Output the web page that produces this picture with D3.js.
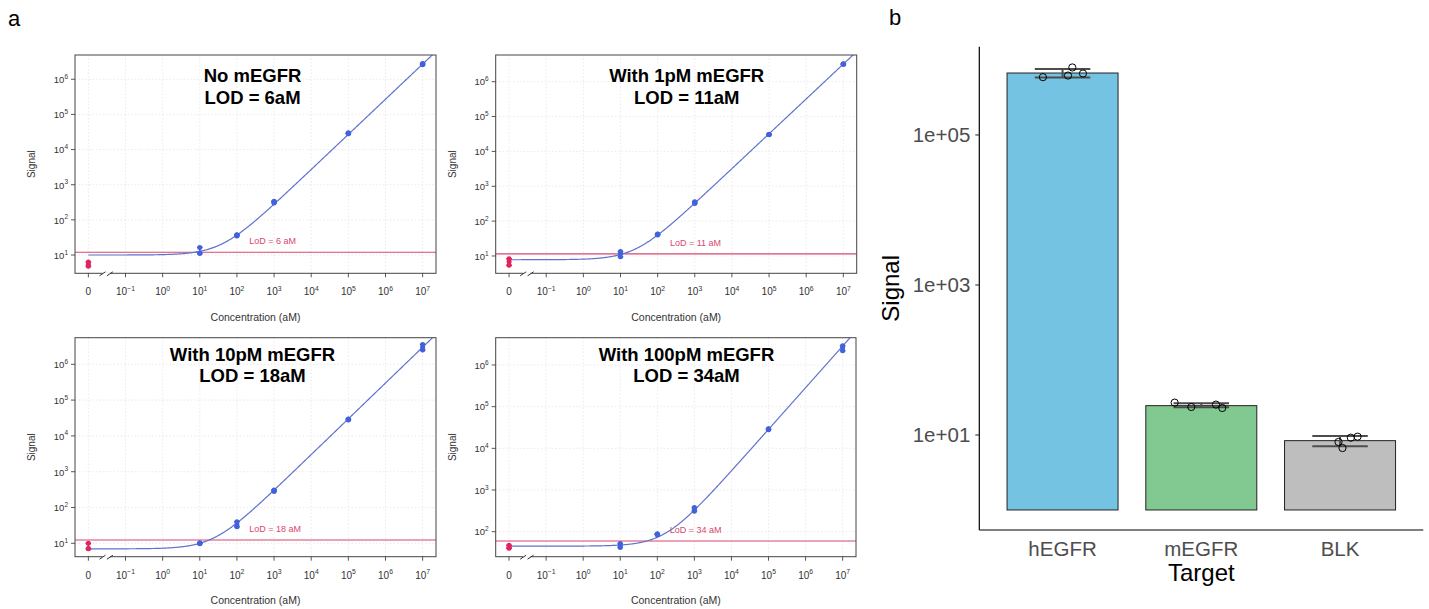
<!DOCTYPE html>
<html><head><meta charset="utf-8">
<script src="https://cdn.jsdelivr.net/npm/d3@7"></script>
<style>body{margin:0;background:#fff}svg{display:block;font-family:"Liberation Sans",Arial,sans-serif}</style>
</head><body><svg id="c" width="1429" height="609"></svg>
<script>
// ---------------- DATA ----------------
const concentrations = [0, 10, 100, 1000, 100000, 10000000];
const panelTitles = ["No mEGFR", "With 1pM mEGFR", "With 10pM mEGFR", "With 100pM mEGFR"];
const panelLodTitles = ["LOD = 6aM", "LOD = 11aM", "LOD = 18aM", "LOD = 34aM"];
const lodLabels = ["LoD = 6 aM", "LoD = 11 aM", "LoD = 18 aM", "LoD = 34 aM"];
const lodSignals = [12, 11.5, 12.4, 60];
// replicate signals per concentration (first entry = blank, concentration 0)
const signalsNoMEGFR = [[6.3, 5.4, 4.8], [16.5, 11, 11.5], [35, 38, 37], [300, 330, 340], [28000, 30000, 29000], [2.6e6, 2.8e6, 2.7e6]];
const signals1pM = [[8.3, 6.8, 5.4], [13.5, 9.5, 12], [40, 43, 42], [320, 360, 350], [30000, 31000, 30500], [3.1e6, 3.3e6, 3.2e6]];
const signals10pM = [[10, 7.2, 7], [9.7, 10.3, 10], [40, 29, 33], [280, 310, 300], [28000, 29500, 29000], [3.6e6, 2.5e6, 3.0e6]];
const signals100pM = [[47, 40, 42], [52, 42, 46], [85, 89, 87], [310, 380, 345], [28000, 29500, 29000], [2.9e6, 2.2e6, 2.6e6]];
// fitted curve parameters: signal = background + slope * conc^exponent
const fitBackground = [10, 7.8, 7, 45];
const fitSlope = [0.27, 0.32, 0.3, 0.285];
const fitExponent = [1, 1, 1, 1];
const xTickExponents = [-1, 0, 1, 2, 3, 4, 5, 6, 7];
const yTickExponents = [[1, 2, 3, 4, 5, 6], [1, 2, 3, 4, 5, 6], [1, 2, 3, 4, 5, 6], [2, 3, 4, 5, 6]];

const targets = ["hEGFR", "mEGFR", "BLK"];
const targetMeans = [6.7e5, 24.6, 8.4];
const targetErrLow = [5.85e5, 23.4, 7.1];
const targetErrHigh = [7.6e5, 26.5, 9.7];
const targetReplicates = [[5.9e5, 6.2e5, 7.95e5, 6.6e5], [27, 23.6, 25.4, 22.9], [8.07, 6.7, 9.2, 9.5]];
const replicateJitter = [[-0.177, 0.049, 0.088, 0.184], [-0.24, -0.09, 0.132, 0.189], [-0.014, 0.022, 0.097, 0.158]];
const barTickLabels = ["1e+01", "1e+03", "1e+05"];
const barTickValues = [10, 1000, 100000];

// ---------------- DRAW ----------------
const svg = d3.select("#c");
svg.append("rect").attr("width", 1429).attr("height", 609).attr("fill", "#fff");

svg.append("text").attr("x", 8).attr("y", 26).attr("font-size", 22).text("a");
svg.append("text").attr("x", 889).attr("y", 25).attr("font-size", 22).text("b");

const allSignals = [signalsNoMEGFR, signals1pM, signals10pM, signals100pM];
const boxes = [
  {x0: 75, x1: 436, y0: 55, y1: 273.3, ylo: 0.48, yhi: 6.69, tx: 252.5, ty: 82.3},
  {x0: 495.7, x1: 856.7, y0: 55, y1: 273.3, ylo: 0.503, yhi: 6.766, tx: 686.7, ty: 82.3},
  {x0: 75, x1: 436, y0: 337.7, y1: 556.7, ylo: 0.626, yhi: 6.743, tx: 252.5, ty: 360.7},
  {x0: 495.7, x1: 856, y0: 337.7, y1: 556.7, ylo: 1.4, yhi: 6.655, tx: 686.5, ty: 360.7}
];
const ZERO_POS = 0.01;
const blue = "#4262dc", curveCol = "#6072cc", red = "#e0245e", lodCol = "#d9476e", txtCol = "#333";

function sup(sel, exp, fs) {
  sel.append("tspan").text("10");
  sel.append("tspan").attr("dy", -fs * 0.45).attr("font-size", fs * 0.68).text(exp < 0 ? "\u2212" + (-exp) : String(exp));
}

boxes.forEach((b, i) => {
  const g = svg.append("g");
  const x = d3.scaleLog().domain([Math.pow(10, -2.36), Math.pow(10, 7.36)]).range([b.x0, b.x1]);
  const y = d3.scaleLog().domain([Math.pow(10, b.ylo), Math.pow(10, b.yhi)]).range([b.y1, b.y0]);
  const xPos = c => x(c === 0 ? ZERO_POS : c);
  const clipId = "clip" + i;
  svg.append("clipPath").attr("id", clipId).append("rect")
    .attr("x", b.x0).attr("y", b.y0).attr("width", b.x1 - b.x0).attr("height", b.y1 - b.y0);

  // grid
  const gridX = [ZERO_POS].concat(xTickExponents.map(e => Math.pow(10, e)));
  g.selectAll(".gx").data(gridX).enter().append("line")
    .attr("x1", d => x(d)).attr("x2", d => x(d)).attr("y1", b.y0).attr("y2", b.y1)
    .attr("stroke", "#e4e4e4").attr("stroke-dasharray", "1.5,2").attr("stroke-width", 0.8);
  g.selectAll(".gy").data(yTickExponents[i]).enter().append("line")
    .attr("x1", b.x0).attr("x2", b.x1).attr("y1", d => y(Math.pow(10, d))).attr("y2", d => y(Math.pow(10, d)))
    .attr("stroke", "#e4e4e4").attr("stroke-dasharray", "1.5,2").attr("stroke-width", 0.8);

  // LoD line
  g.append("line").attr("x1", b.x0).attr("x2", b.x1)
    .attr("y1", y(lodSignals[i])).attr("y2", y(lodSignals[i]))
    .attr("stroke", lodCol).attr("stroke-width", 1.1);
  g.append("text").attr("x", x(215)).attr("y", y(lodSignals[i]) - 8)
    .attr("font-size", 9).attr("fill", lodCol).text(lodLabels[i]);

  // fitted curve
  const lx = d3.range(-2, 7.5, 0.02).map(e => Math.pow(10, e));
  const line = d3.line().x(d => x(d)).y(d => y(fitBackground[i] + fitSlope[i] * Math.pow(d, fitExponent[i])));
  g.append("path").attr("d", line(lx)).attr("fill", "none").attr("stroke", curveCol)
    .attr("stroke-width", 1.2).attr("clip-path", "url(#" + clipId + ")");

  // error bars and points
  const sig = allSignals[i];
  concentrations.forEach((c, k) => {
    const col = c === 0 ? red : blue;
    const vals = sig[k];
    const lo = d3.min(vals), hi = d3.max(vals);
    const px = xPos(c);
    g.append("line").attr("x1", px).attr("x2", px).attr("y1", y(lo)).attr("y2", y(hi))
      .attr("stroke", col).attr("stroke-width", 1.6);
    [lo, hi].forEach(v => g.append("line").attr("x1", px - 2.8).attr("x2", px + 2.8)
      .attr("y1", y(v)).attr("y2", y(v)).attr("stroke", col).attr("stroke-width", 1.6));
    g.selectAll(null).data(vals).enter().append("circle")
      .attr("cx", px).attr("cy", d => y(d)).attr("r", 2.5).attr("fill", col);
  });

  // box
  g.append("rect").attr("x", b.x0).attr("y", b.y0).attr("width", b.x1 - b.x0).attr("height", b.y1 - b.y0)
    .attr("fill", "none").attr("stroke", "#444").attr("stroke-width", 1);

  // axis break marks
  const bx1 = x(Math.pow(10, -1.62)), bx2 = x(Math.pow(10, -1.42));
  g.append("rect").attr("x", bx1).attr("y", b.y1 - 1).attr("width", bx2 - bx1).attr("height", 2).attr("fill", "#fff");
  [bx1, bx2].forEach(bx => g.append("line").attr("x1", bx - 3).attr("y1", b.y1 + 2.5).attr("x2", bx + 3).attr("y2", b.y1 - 1.5)
    .attr("stroke", "#333").attr("stroke-width", 1));

  // x ticks
  const xt = [{v: ZERO_POS, e: null}].concat(xTickExponents.map(e => ({v: Math.pow(10, e), e})));
  xt.forEach(t => {
    g.append("line").attr("x1", x(t.v)).attr("x2", x(t.v)).attr("y1", b.y1).attr("y2", b.y1 + 4)
      .attr("stroke", "#444").attr("stroke-width", 0.9);
    const tx = g.append("text").attr("x", x(t.v)).attr("y", b.y1 + 22).attr("text-anchor", "middle")
      .attr("font-size", 10).attr("fill", txtCol);
    if (t.e === null) tx.text("0"); else sup(tx, t.e, 10);
  });
  // y ticks
  yTickExponents[i].forEach(e => {
    const yy = y(Math.pow(10, e));
    g.append("line").attr("x1", b.x0 - 4).attr("x2", b.x0).attr("y1", yy).attr("y2", yy)
      .attr("stroke", "#444").attr("stroke-width", 0.9);
    const ty = g.append("text").attr("x", b.x0 - 7).attr("y", yy + 3.8).attr("text-anchor", "end")
      .attr("font-size", 9.5).attr("fill", txtCol);
    sup(ty, e, 9.5);
  });
  // axis titles
  g.append("text").attr("x", (b.x0 + b.x1) / 2).attr("y", b.y1 + 47.5).attr("text-anchor", "middle")
    .attr("font-size", 10.5).attr("fill", txtCol).text("Concentration (aM)");
  g.append("text").attr("transform", `translate(${b.x0 - 40},${(b.y0 + b.y1) / 2}) rotate(-90)`)
    .attr("text-anchor", "middle").attr("font-size", 10).attr("fill", txtCol).text("Signal");
  // titles
  g.append("text").attr("x", b.tx).attr("y", b.ty).attr("text-anchor", "middle")
    .attr("font-size", 18.5).attr("font-weight", "bold").attr("fill", "#000").text(panelTitles[i]);
  g.append("text").attr("x", b.tx).attr("y", b.ty + 21.5).attr("text-anchor", "middle")
    .attr("font-size", 18.5).attr("font-weight", "bold").attr("fill", "#000").text(panelLodTitles[i]);
});

// ---------------- PANEL b ----------------
const bx0 = 979.3, bx1 = 1423.3, by0 = 46.7, by1 = 530;
const xb = d3.scaleBand().domain(targets).range([bx0, bx1]).paddingInner(0.2).paddingOuter(0.2);
const yb = d3.scaleLog().domain([Math.pow(10, -0.267), Math.pow(10, 6.177)]).range([by1, by0]);
const barColors = ["#74c3e3", "#81c991", "#bebebe"];
const gb = svg.append("g");
const bw = xb.bandwidth();

gb.selectAll(".bar").data(targets).enter().append("rect")
  .attr("x", d => xb(d)).attr("width", bw)
  .attr("y", (d, i) => yb(targetMeans[i])).attr("height", (d, i) => yb(1) - yb(targetMeans[i]))
  .attr("fill", (d, i) => barColors[i]).attr("stroke", "#222").attr("stroke-width", 1);

targets.forEach((t, i) => {
  const cx = xb(t) + bw / 2, hw = bw * 0.25;
  gb.append("line").attr("x1", cx).attr("x2", cx).attr("y1", yb(targetErrLow[i])).attr("y2", yb(targetErrHigh[i]))
    .attr("stroke", "#4d4d4d").attr("stroke-width", 2);
  [targetErrLow[i], targetErrHigh[i]].forEach(v => gb.append("line")
    .attr("x1", cx - hw).attr("x2", cx + hw).attr("y1", yb(v)).attr("y2", yb(v))
    .attr("stroke", "#4d4d4d").attr("stroke-width", 2));
  targetReplicates[i].forEach((v, k) => gb.append("circle")
    .attr("cx", cx + replicateJitter[i][k] * bw).attr("cy", yb(v)).attr("r", 3.6)
    .attr("fill", "none").attr("stroke", "#000").attr("stroke-width", 1));
});

// axes
gb.append("line").attr("x1", bx0).attr("x2", bx0).attr("y1", by0).attr("y2", by1).attr("stroke", "#000").attr("stroke-width", 1.2);
gb.append("line").attr("x1", bx0).attr("x2", bx1).attr("y1", by1).attr("y2", by1).attr("stroke", "#000").attr("stroke-width", 1.2);
barTickValues.forEach((v, k) => {
  gb.append("line").attr("x1", bx0 - 4).attr("x2", bx0).attr("y1", yb(v)).attr("y2", yb(v)).attr("stroke", "#333").attr("stroke-width", 1.1);
  gb.append("text").attr("x", bx0 - 9).attr("y", yb(v) + 7.3).attr("text-anchor", "end")
    .attr("font-size", 20.5).attr("fill", "#4d4d4d").text(barTickLabels[k]);
});
targets.forEach(t => gb.append("text").attr("x", xb(t) + bw / 2).attr("y", 556).attr("text-anchor", "middle")
  .attr("font-size", 20.5).attr("fill", "#4d4d4d").text(t));
gb.append("text").attr("x", (bx0 + bx1) / 2).attr("y", 580.5).attr("text-anchor", "middle")
  .attr("font-size", 24).attr("fill", "#000").text("Target");
gb.append("text").attr("transform", `translate(899,${(by0 + by1) / 2}) rotate(-90)`).attr("text-anchor", "middle")
  .attr("font-size", 24).attr("fill", "#000").text("Signal");
</script></body></html>
